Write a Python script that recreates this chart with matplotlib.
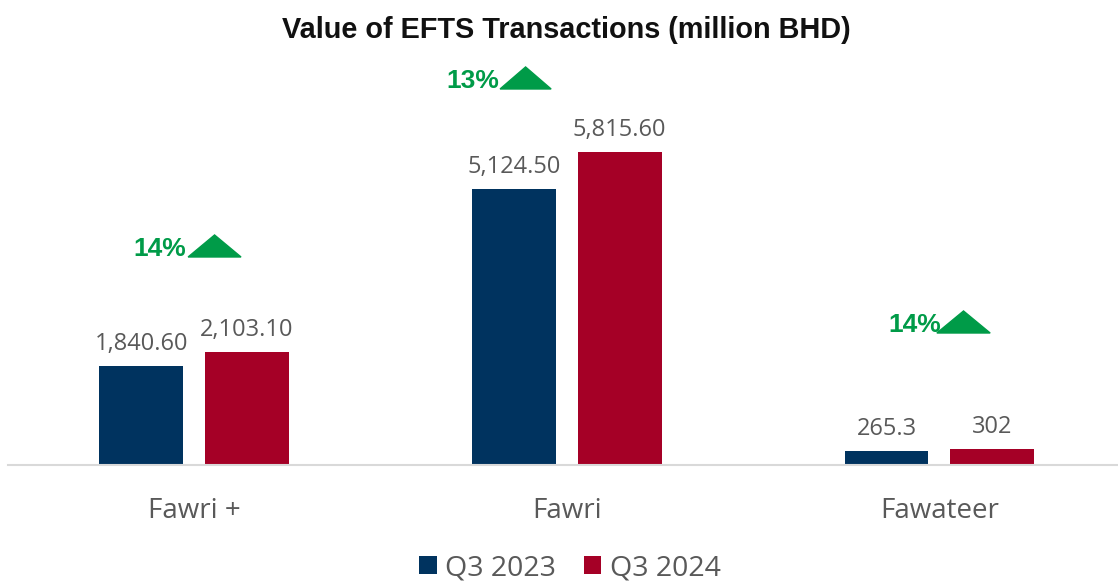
import matplotlib
matplotlib.use("Agg")
import matplotlib.pyplot as plt
from matplotlib.patches import Polygon
import numpy as np

categories = ["Fawri +", "Fawri", "Fawateer"]
series_names = ["Q3 2023", "Q3 2024"]
q3_2023 = [1840.6, 5124.5, 265.3]
q3_2024 = [2103.1, 5815.6, 302.0]
labels_2023 = ["1,840.60", "5,124.50", "265.3"]
labels_2024 = ["2,103.10", "5,815.60", "302"]

NAVY = "#00335F"
RED = "#A50026"
GREEN = "#009B48"
GRAY = "#595959"

fig = plt.figure(figsize=(11.18, 5.82), dpi=100)
ax = fig.add_axes([0, 1 - 465 / 582, 1, 425 / 582])

x = np.arange(len(categories))
w = 0.225
off = 0.142
b1 = ax.bar(x - off, q3_2023, w, color=NAVY, label=series_names[0])
b2 = ax.bar(x + off, q3_2024, w, color=RED, label=series_names[1])

ax.set_xlim(-0.5207, 2.479)
ax.set_ylim(0, 7895)

for bars, labs in ((b1, labels_2023), (b2, labels_2024)):
    for r, t in zip(bars, labs):
        ax.annotate(t, (r.get_x() + r.get_width() / 2, r.get_height()),
                    xytext=(0, 7), textcoords="offset points",
                    ha="center", va="bottom", fontsize=17, color=GRAY,
                    family=["Open Sans", "DejaVu Sans"])

# growth indicators
tri_pos = [(-0.016, 0.126, 3864, 4273), (0.821, 0.958, 6985, 7394), (1.993, 2.136, 2452, 2861)]
txt_pos = [(-0.022, 4013), (0.818, 7134), (2.005, 2601)]
for i, (a, b) in enumerate(zip(q3_2023, q3_2024)):
    pct = round((b - a) / a * 100)
    l, r, y0, y1 = tri_pos[i]
    ax.add_patch(Polygon([[l, y0], [r, y0], [(l + r) / 2, y1]], closed=True,
                         color=GREEN, clip_on=False, zorder=3))
    tx, ty = txt_pos[i]
    ax.text(tx, ty, f"{pct}%", ha="right", va="center", fontsize=19,
            fontweight="bold", color=GREEN, family=["Liberation Sans", "DejaVu Sans"], zorder=4)

for s in ["top", "right", "left"]:
    ax.spines[s].set_visible(False)
ax.spines["bottom"].set_color("#D9D9D9")
ax.spines["bottom"].set_linewidth(1.5)
ax.spines["bottom"].set_bounds(-0.5, 2.479)
ax.set_yticks([])
ax.set_xticks(x)
ax.set_xticklabels(categories, fontsize=20, color=GRAY, family=["Open Sans", "DejaVu Sans"])
ax.tick_params(axis="x", length=0, pad=23)

fig.text(0.507, 1 - 30 / 582, "Value of EFTS Transactions (million BHD)", ha="center", va="center",
         fontsize=20.8, fontweight="bold", color="#111111", family=["Liberation Sans", "DejaVu Sans"])

leg = fig.legend(handles=[b1, b2], labels=series_names, loc="center", bbox_to_anchor=(0.51, 1 - 568 / 582),
                 ncol=2, frameon=False, handlelength=0.6, handleheight=0.6,
                 handletextpad=0.3, columnspacing=1.0,
                 prop={"family": ["Open Sans", "DejaVu Sans"], "size": 20.5})
for t in leg.get_texts():
    t.set_color(GRAY)

fig.savefig("out.png", dpi=100)
